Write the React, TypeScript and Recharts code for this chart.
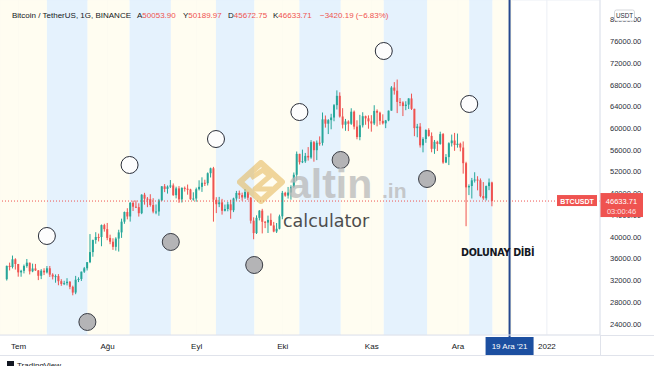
import React from 'react';
import { ComposedChart, Bar, XAxis, YAxis, CartesianGrid, ReferenceArea, ReferenceLine, ReferenceDot } from 'recharts';

const FONT = '"Liberation Sans", Arial, sans-serif';
const UP = '#26a69a';
const DOWN = '#ef5350';
const TXT = '#131722';

// time axis range (daily)
const axisFirstDay = '2021-06-25';
const axisLastDay = '2022-01-19';
const monthTicks = ['2021-07-01', '2021-08-01', '2021-09-01', '2021-10-01', '2021-11-01', '2021-12-01', '2022-01-01'];
const monthLabels = ['Tem', 'Ağu', 'Eyl', 'Eki', 'Kas', 'Ara', '2022'];
const priceTicks = [24000, 28000, 32000, 36000, 40000, 44000, 48000, 52000, 56000, 60000, 64000, 68000, 72000, 76000, 80000];

// OHLC rows [open, high, low, close], consecutive days from the start date
const junCandles = [
  [32243, 34749, 32000, 34700], [34700, 35297, 33862, 34494], [34494, 36600, 34225, 35911], [35911, 36100, 34017, 35045],
];
const julCandles = [
  [35045, 35057, 32711, 33504], [33504, 33977, 32699, 33786], [33786, 34945, 33316, 34669], [34669, 35967, 34357, 35287],
  [35287, 35293, 33125, 33691], [33691, 35118, 33532, 34220], [34220, 35059, 33777, 33863], [33863, 33927, 32078, 32875],
  [32875, 34100, 32261, 33815], [33815, 34262, 33005, 33502], [33502, 34666, 33306, 34259], [34259, 34678, 32659, 33087],
  [33087, 33341, 32202, 32729], [32729, 33125, 31600, 32820], [32820, 33186, 31133, 31880], [31880, 32249, 31021, 31383],
  [31383, 31955, 31164, 31520], [31520, 32435, 31108, 31778], [31778, 31899, 30407, 30839], [30839, 31063, 29278, 29790],
  [29790, 32858, 29482, 32144], [32144, 32591, 31708, 32287], [32287, 33650, 31924, 33634], [33634, 34500, 33401, 34258],
  [34258, 35398, 33851, 35381], [35381, 40550, 35205, 37237], [37237, 39542, 36383, 39457], [39457, 40900, 38772, 40019],
  [40019, 40640, 39200, 40016], [40016, 42316, 38313, 42206], [42206, 42448, 41000, 41461],
];
const augCandles = [
  [41461, 42599, 39422, 39845], [39845, 40445, 38690, 39147], [39147, 39780, 37642, 38207], [38207, 39969, 37508, 39723],
  [39723, 41350, 37332, 40862], [40862, 43392, 39853, 42836], [42836, 44700, 42446, 44614], [44614, 45310, 43261, 43792],
  [43792, 46456, 42848, 46285], [46285, 46700, 44800, 45595], [45595, 46743, 45341, 45511], [45511, 46218, 43771, 44400],
  [44400, 47886, 44217, 47800], [47800, 48144, 45971, 47068], [47068, 47372, 45500, 46973], [46973, 47888, 45600, 45902],
  [45902, 47160, 44376, 44696], [44696, 46000, 44203, 44705], [44705, 47033, 43927, 46760], [46760, 49382, 46622, 49340],
  [49340, 49757, 48273, 48867], [48867, 49500, 48003, 49285], [49285, 50500, 49026, 49507], [49507, 49876, 47600, 47707],
  [47707, 49277, 47123, 48960], [48960, 49380, 46300, 46942], [46942, 49150, 46364, 49058], [49058, 49310, 48370, 48897],
  [48897, 49667, 47801, 48767], [48767, 48888, 46853, 46970], [46970, 48246, 46700, 47100],
];
const sepCandles = [
  [47100, 49111, 46512, 48810], [48810, 50450, 48584, 49246], [49246, 51000, 48316, 49999], [49999, 50558, 49400, 49915],
  [49915, 51900, 49500, 51756], [51756, 52780, 50969, 52663], [52663, 52920, 42843, 46863], [46863, 47340, 44412, 46048],
  [46048, 47400, 45513, 46395], [46395, 47033, 44132, 44842], [44842, 45987, 44722, 45173], [45173, 46460, 44742, 46025],
  [46025, 46880, 43370, 44940], [44940, 47250, 44594, 47111], [47111, 48500, 46692, 48121], [48121, 48557, 47021, 47737],
  [47737, 48180, 46700, 47300], [47300, 48843, 47033, 48292], [48292, 48372, 46829, 47241], [47241, 47347, 42500, 43015],
  [43015, 43639, 39600, 40734], [40734, 44000, 40565, 43543], [43543, 44978, 43069, 44866], [44866, 45200, 40675, 42810],
  [42810, 42966, 41646, 42670], [42670, 43950, 40750, 43160], [43160, 44350, 42098, 42147], [42147, 42787, 40888, 41026],
  [41026, 42590, 40753, 41524], [41524, 44132, 41410, 43824],
];
const octCandles = [
  [43824, 48495, 43283, 48141], [48141, 48336, 47430, 47634], [47634, 49228, 47088, 48200], [48200, 49536, 46891, 49224],
  [49224, 51886, 49022, 51471], [51471, 55750, 50382, 55315], [55315, 55332, 53357, 53785], [53785, 56100, 53617, 53951],
  [53951, 55489, 53661, 54949], [54949, 56561, 54080, 54659], [54659, 57839, 54415, 57471], [57471, 57680, 53879, 55996],
  [55996, 57777, 54167, 57367], [57367, 58532, 56818, 57347], [57347, 62933, 56850, 61672], [61672, 62378, 60150, 60875],
  [60875, 61718, 58963, 61528], [61528, 62695, 59844, 62009], [62009, 64486, 61322, 64280], [64280, 67000, 63481, 66001],
  [66001, 66639, 62000, 62193], [62193, 63732, 60000, 60688], [60688, 61747, 59562, 61286], [61286, 61500, 59510, 60852],
  [60852, 63710, 60650, 63078], [63078, 63293, 59817, 60328], [60328, 61496, 58000, 58413], [58413, 62499, 57820, 60575],
  [60575, 62980, 60174, 62253], [62253, 62359, 60673, 61859], [61859, 62405, 59945, 61299],
];
const novCandles = [
  [61299, 62437, 59405, 60911], [60911, 64270, 60624, 63219], [63219, 63500, 60382, 62896], [62896, 63086, 60677, 61395],
  [61395, 62595, 60721, 60937], [60937, 61560, 60050, 61470], [61470, 63286, 61322, 63273], [63273, 67789, 63273, 67525],
  [67525, 68524, 66222, 66947], [66947, 69000, 62822, 64882], [64882, 65600, 64100, 64774], [64774, 65000, 62278, 64122],
  [64122, 65000, 63360, 64380], [64380, 65550, 63576, 65519], [65519, 66401, 63400, 63607], [63607, 63617, 58574, 60058],
  [60058, 60840, 58373, 60344], [60344, 60976, 56474, 56891], [56891, 58372, 55600, 58052], [58052, 59845, 57353, 59707],
  [59707, 60029, 58486, 58622], [58622, 59266, 55610, 56247], [56247, 57875, 55317, 57541], [57541, 57735, 55837, 57138],
  [57138, 59398, 57000, 58960], [58960, 59150, 53500, 53726], [53726, 55280, 53610, 54721], [54721, 57445, 53256, 57274],
  [57274, 58865, 56666, 57776], [57776, 59176, 55875, 56950],
];
const decCandles = [
  [56950, 59053, 56458, 57184], [57184, 57375, 55777, 56480], [56480, 57600, 51680, 53601], [53601, 53859, 42000, 49152],
  [49152, 49699, 47727, 49396], [49396, 50891, 47100, 50441], [50441, 51936, 50039, 50588], [50588, 51200, 48600, 50471],
  [50471, 50797, 47320, 47545], [47545, 50125, 46852, 47140], [47140, 49485, 46751, 49389], [49389, 50777, 48638, 50053.9],
  [50053.9, 50189.97, 45672.75, 46633.71],
];
const candleMonths = [
  { start: '2021-06-27', rows: junCandles },
  { start: '2021-07-01', rows: julCandles },
  { start: '2021-08-01', rows: augCandles },
  { start: '2021-09-01', rows: sepCandles },
  { start: '2021-10-01', rows: octCandles },
  { start: '2021-11-01', rows: novCandles },
  { start: '2021-12-01', rows: decCandles },
];

// moon drawings (time, price of the circle)
const newMoonTimes = ['2021-07-11T06:00', '2021-08-08T22:00', '2021-09-07T21:00', '2021-10-06T19:00', '2021-11-05T01:00', '2021-12-04T16:00'];
const newMoonPrices = [40200, 53270, 58050, 63020, 74250, 64500];
const fullMoonTimes = ['2021-07-25T07:00', '2021-08-23T05:00', '2021-09-21T03:00', '2021-10-21T02:00', '2021-11-20T01:00'];
const fullMoonPrices = [24370, 39100, 34860, 54190, 50690];
const lastBandEnd = '2021-12-12T16:00';
const markerDay = '2021-12-19';
const markerLabel = "19 Ara '21";
const markerNote = 'DOLUNAY DİBİ';

const DAY = 86400000;
const t0 = Date.parse(axisFirstDay + 'T00:00:00Z');
const nDays = (Date.parse(axisLastDay + 'T00:00:00Z') - t0) / DAY + 1;
const keyOf = (ms: number) => new Date(ms).toISOString().slice(0, 10);
const dayPos = (s: string) => (Date.parse(s + (s.length > 10 ? ':00Z' : 'T12:00:00Z')) - t0) / DAY;

const byDate = new Map<string, any>();
candleMonths.forEach(({ start, rows }) => {
  const s = Date.parse(start + 'T00:00:00Z');
  rows.forEach(([o, h, l, c], i) => byDate.set(keyOf(s + i * DAY), { o, h, l, c }));
});
const chartData = Array.from({ length: nDays }, (_, i) => {
  const date = keyOf(t0 + i * DAY);
  const k = byDate.get(date);
  return k ? { date, ...k, range: [k.l, k.h] } : { date };
});
const allCandles = candleMonths.flatMap((m) => m.rows);
const last = allCandles[allCandles.length - 1];
const prevClose = allCandles[allCandles.length - 2][3];
const change = last[3] - prevClose;
const changePct = (change / prevClose) * 100;
const fmt = (v: number) => v.toFixed(2);
const fmtSigned = (v: number) => (v < 0 ? '\u2212' : '+') + Math.abs(v).toFixed(2);

const blueBands = newMoonTimes.map((s, i) => [dayPos(s), dayPos(fullMoonTimes[i] ?? lastBandEnd)]);
const creamBands = [
  [0, dayPos(newMoonTimes[0])],
  ...fullMoonTimes.map((s, i) => [dayPos(s), dayPos(newMoonTimes[i + 1])]),
  [dayPos(lastBandEnd), dayPos(markerDay)],
];

const Candle = (p: any) => {
  const { x, y, width, height, payload } = p;
  if (!payload || payload.o == null) return <g />;
  const { o, h, l, c } = payload;
  const top = Math.min(y, y + height);
  const hh = Math.abs(height);
  const ppu = hh / (h - l || 1);
  const color = c >= o ? UP : DOWN;
  const bodyTop = top + (h - Math.max(o, c)) * ppu;
  const bodyH = Math.max(1, Math.abs(o - c) * ppu);
  const cx = x + width / 2;
  return (
    <g>
      <line x1={cx} x2={cx} y1={top} y2={top + hh} stroke={color} strokeWidth={1} />
      <rect x={cx - 1} y={bodyTop} width={2} height={bodyH} fill={color} />
    </g>
  );
};

// price-scale label, drawn at the tick's own position on the scale
const PriceScaleLabel = (p: any) => {
  const vb = p.viewBox || {};
  return (
    <text x={vb.x + vb.width + 10} y={vb.y} dy={2.6} fontSize={7.5} fontFamily={FONT} fill="#2a2e39" textAnchor="start">
      {p.text}
    </text>
  );
};

const PriceTag = (p: any) => {
  const vb = p.viewBox || {};
  const y = vb.y;
  const right = vb.x + vb.width;
  return (
    <g fontFamily={FONT}>
      <rect x={right - 43} y={y - 6} width={40} height={11} fill={DOWN} />
      <text x={right - 23} y={y + 2.6} fontSize={7} fontWeight="bold" fill="#fff" textAnchor="middle">BTCUSDT</text>
      <rect x={right} y={y - 8} width={43} height={24} fill={DOWN} />
      <text x={right + 21.5} y={y + 2.5} fontSize={7.5} fill="#fff" textAnchor="middle">{fmt(last[3])}</text>
      <text x={right + 21.5} y={y + 12.5} fontSize={7.5} fill="#fde0e0" textAnchor="middle">03:00:46</text>
    </g>
  );
};

const MarkerTag = (p: any) => {
  const vb = p.viewBox || {};
  const x = vb.x;
  const bottom = vb.y + vb.height;
  return (
    <g fontFamily={FONT}>
      <line x1={x} x2={x} y1={bottom} y2={bottom + 3} stroke="#24478f" strokeWidth={2} />
      <rect x={x - 24} y={bottom + 2} width={48} height={18} fill="#1c4fa0" />
      <text x={x} y={bottom + 14} fontSize={8} fill="#fff" textAnchor="middle">{markerLabel}</text>
      <text x={x - 48.5} y={256} fontSize={9.6} fontWeight="bold" fill={TXT} fontFamily='"DejaVu Sans", sans-serif' letterSpacing={-0.3}>{markerNote}</text>
    </g>
  );
};

export default function App() {
  return (
    <div style={{ position: 'absolute', left: 0, top: 0, width: 654, height: 366, background: '#fff', overflow: 'hidden' }}>
      <ComposedChart width={654} height={366} data={chartData} margin={{ top: 0, right: 0, bottom: 0, left: 0 }}>
        <CartesianGrid stroke="#eceff5" strokeWidth={1} />
        <XAxis
          dataKey="date"
          type="category"
          ticks={monthTicks}
          interval={0}
          tickFormatter={(v: string) => monthLabels[monthTicks.indexOf(v)]}
          tickLine={false}
          axisLine={{ stroke: '#e0e3eb' }}
          height={31}
          tick={{ fontSize: 8, fill: TXT, fontFamily: FONT }}
        />
        <XAxis xAxisId="t" type="number" domain={[0, nDays]} allowDataOverflow hide />
        <YAxis
          orientation="right"
          type="number"
          domain={[21975, 83640]}
          allowDataOverflow
          ticks={priceTicks}
          interval={0}
          width={54}
          tickLine={false}
          tick={false}
          axisLine={{ stroke: '#e0e3eb' }}
        />
        {creamBands.map(([a, b], i) => (
          <ReferenceArea key={'c' + i} xAxisId="t" x1={a} x2={b} fill="#fffdee" fillOpacity={0.85} stroke="none" />
        ))}
        {blueBands.map(([a, b], i) => (
          <ReferenceArea key={'b' + i} xAxisId="t" x1={a} x2={b} fill="#e1f0fd" fillOpacity={0.85} stroke="none" />
        ))}
        <Bar dataKey="range" barSize={2} shape={Candle} isAnimationActive={false} />
        {priceTicks.map((v) => (
          <ReferenceLine key={'pt' + v} y={v} stroke="none" label={<PriceScaleLabel text={fmt(v)} />} />
        ))}
        <ReferenceLine y={last[3]} stroke={DOWN} strokeDasharray="1 2" strokeWidth={1} label={<PriceTag />} />
        <ReferenceLine x={markerDay} stroke="#24478f" strokeWidth={2} label={<MarkerTag />} />
        {newMoonTimes.map((s, i) => (
          <ReferenceDot key={'n' + i} xAxisId="t" x={dayPos(s)} y={newMoonPrices[i]} r={8.5} fill="#fdfdfd" stroke="#2a2e39" strokeWidth={1} />
        ))}
        {fullMoonTimes.map((s, i) => (
          <ReferenceDot key={'f' + i} xAxisId="t" x={dayPos(s)} y={fullMoonPrices[i]} r={8.5} fill="#b4b4b6" stroke="#3a3d45" strokeWidth={1} />
        ))}
      </ComposedChart>
      <svg width={654} height={366} style={{ position: 'absolute', left: 0, top: 0, pointerEvents: 'none' }}>
        <g fontFamily={FONT} fontSize={8}>
          <text x={12} y={17.5} fill={TXT}>Bitcoin / TetherUS, 1G, BINANCE</text>
          <text x={137} y={17.5} fill={TXT}>A<tspan fill={DOWN}>{fmt(last[0])}</tspan></text>
          <text x={183} y={17.5} fill={TXT}>Y<tspan fill={DOWN}>{fmt(last[1])}</tspan></text>
          <text x={228} y={17.5} fill={TXT}>D<tspan fill={DOWN}>{fmt(last[2])}</tspan></text>
          <text x={273} y={17.5} fill={TXT}>K<tspan fill={DOWN}>{fmt(last[3])}</tspan></text>
          <text x={320} y={17.5} fill={DOWN}>{fmtSigned(change)} ({fmtSigned(changePct)}%)</text>
        </g>
        <rect x={614.5} y={10} width={20} height={11} rx={2} fill="#fff" stroke="#c9cbd1" strokeWidth={0.8} />
        <text x={624.5} y={18} fontSize={6.3} fontFamily={FONT} fill="#2a2e39" textAnchor="middle">USDT</text>
        <line x1={600} x2={654} y1={335.5} y2={335.5} stroke="#e0e3eb" />
        <line x1={0} x2={654} y1={355.5} y2={355.5} stroke="#e0e3eb" />
        <line x1={600.5} x2={600.5} y1={335} y2={356} stroke="#e0e3eb" />
        {/* watermark */}
        <g opacity={0.55}>
          <path d="M240 182 L261 163 L282 182 L261 201 Z" fill="none" stroke="#e4b554" strokeWidth={6} strokeLinejoin="round" />
          <path d="M251 178 L263 170 L270 176 L255 189 L272 189" fill="none" stroke="#e4b554" strokeWidth={5} strokeLinejoin="round" />
        </g>
        <text x={288} y={198} fontSize={41} fontWeight="bold" fontFamily={FONT} fill="#b9b9b9" opacity={0.75}>altin</text>
        <text x={382} y={198} fontSize={21} fontWeight="bold" fontFamily={FONT} fill="#b9b9b9" opacity={0.75}>.in</text>
        <text x={283} y={227} fontSize={17.5} fontFamily='"DejaVu Sans", sans-serif' fill="#4d4d4d">calculator</text>
        {/* footer */}
        <rect x={7} y={361} width={7} height={5} fill={TXT} />
        <text x={17} y={368} fontSize={8} fontFamily={FONT} fill={TXT}>TradingView</text>
      </svg>
    </div>
  );
}
